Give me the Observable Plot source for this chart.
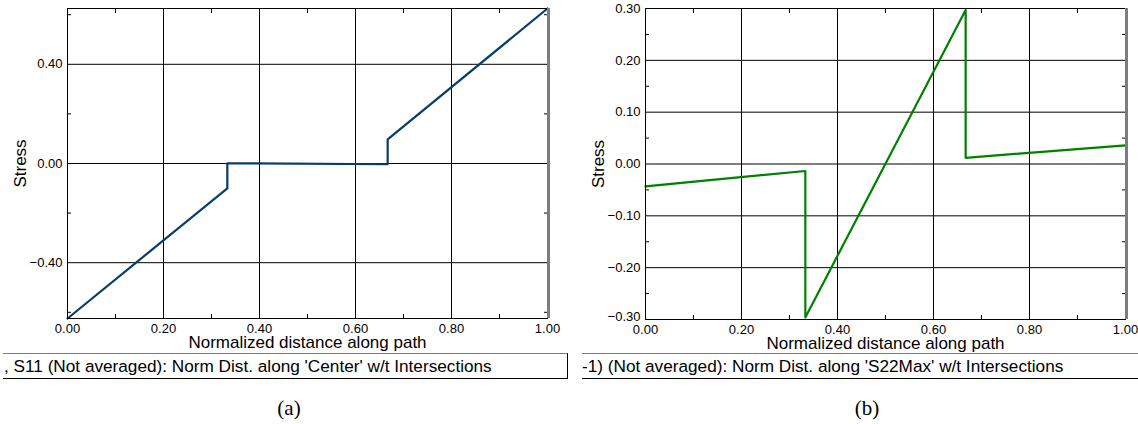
<!DOCTYPE html>
<html>
<head>
<meta charset="utf-8">
<script src="https://cdn.jsdelivr.net/npm/d3@7"></script>
<script src="https://cdn.jsdelivr.net/npm/@observablehq/plot@0.6"></script>
<style>
  html, body { margin: 0; padding: 0; background: #fff; }
  #root { position: relative; width: 1138px; height: 424px; overflow: hidden; font-family: "Liberation Sans", Arial, sans-serif; color: #000; }
  .panel { position: absolute; top: 0; }
  .cap { position: absolute; top: 353px; height: 26px; box-sizing: border-box; border-top: 1px solid #7a7a7a; border-bottom: 1px solid #000; font-size: 17.2px; line-height: 24px; white-space: nowrap; overflow: hidden; }
  .sub { position: absolute; top: 408px; font-family: "Liberation Serif", "DejaVu Serif", serif; font-size: 21px; transform: translate(-50%, -50%); }
</style>
</head>
<body>
<div id="root">
  <div id="pa" class="panel" style="left:0px"></div>
  <div id="pb" class="panel" style="left:570px"></div>
  <div id="capA" class="cap" style="left:3px; width:565px; border-right:1px solid #000; padding-left:1px;"></div>
  <div id="capB" class="cap" style="left:582px; width:600px; padding-left:0px;"></div>
  <div id="subA" class="sub" style="left:289px;"></div>
  <div id="subB" class="sub" style="left:867px;"></div>
</div>
<script>
// ---- data ----
const xLabel = "Normalized distance along path";
const yLabel = "Stress";

// panel (a): S11 along 'Center'
const distA = [0, 0.333, 0.333, 0.667, 0.667, 1.0];
const stressA = [-0.625, -0.1, 0.001, -0.003, 0.097, 0.625];
const yDomainA = [-0.625, 0.625];
const yTicksA = [-0.4, 0.0, 0.4];
const yMinorA = [-0.6, -0.2, 0.2, 0.6];
const captionA = ", S11 (Not averaged): Norm Dist. along 'Center' w/t Intersections";
const subA = "(a)";

// panel (b): along 'S22Max'
const distB = [0, 0.333, 0.333, 0.667, 0.667, 1.0];
const stressB = [-0.043, -0.0135, -0.296, 0.297, 0.012, 0.036];
const yDomainB = [-0.3, 0.3];
const yTicksB = [-0.2, -0.1, 0.0, 0.1, 0.2, 0.3];
const yTicksBLow = [-0.3];
const yGridB = [-0.2, -0.1, 0.0, 0.1, 0.2];
const yMinorB = [-0.25, -0.15, -0.05, 0.05, 0.15, 0.25];
const captionB = "-1) (Not averaged): Norm Dist. along 'S22Max' w/t Intersections";
const subB = "(b)";

// shared x
const xTicks = [0, 0.2, 0.4, 0.6, 0.8, 1.0];
const xGrid = [0.2, 0.4, 0.6, 0.8];
const xMinor = [0.1, 0.3, 0.5, 0.7, 0.9];

const fmt = d3.format(".2f");

function makePanel({dist, stress, color, yDomain, yTicks, yTicksLow, yGrid, yMinor, width, marginLeft, marginRight, marginBottom}) {
  const data = dist.map((d, i) => ({d, s: stress[i]}));
  return Plot.plot({
    width, height: 350,
    marginLeft, marginRight, marginTop: 8, marginBottom,
    style: {fontFamily: "'Liberation Sans', Arial, sans-serif", fontSize: "13px", background: "transparent", color: "#000", overflow: "visible"},
    x: {domain: [0, 1]},
    y: {domain: yDomain},
    marks: [
      Plot.gridX(xGrid, {stroke: "#000", strokeOpacity: 1, strokeWidth: 1}),
      Plot.gridY(yGrid, {stroke: "#000", strokeOpacity: 1, strokeWidth: 1}),
      Plot.axisX(xMinor, {anchor: "bottom", tickSize: -4, fill: "none", label: null}),
      Plot.axisX(xMinor, {anchor: "top", tickSize: -4, fill: "none", label: null}),
      Plot.axisY(yMinor, {anchor: "left", tickSize: -4, fill: "none", label: null}),
      Plot.axisY(yMinor, {anchor: "right", tickSize: -4, fill: "none", label: null}),
      Plot.line(data, {x: "d", y: "s", stroke: color, strokeWidth: 2.2}),
      Plot.frame({stroke: "#000", strokeWidth: 1}),
      Plot.ruleX([1], {stroke: "#7d7d7d", strokeWidth: 3, dx: 1}),
      Plot.axisX(xTicks, {anchor: "bottom", tickSize: 0, tickPadding: 5, tickFormat: fmt, label: null}),
      Plot.axisY(yTicks, {anchor: "left", tickSize: 0, tickPadding: 5, tickFormat: fmt, label: null}),
      yTicksLow ? Plot.axisY(yTicksLow, {anchor: "left", tickSize: 0, tickPadding: 5, dy: -3, tickFormat: fmt, label: null}) : null,
      Plot.axisX([], {anchor: "bottom", tickSize: 0, label: xLabel, labelAnchor: "center", labelOffset: 29, labelArrow: false, fontSize: 17}),
      Plot.axisY([], {anchor: "left", tickSize: 0, label: yLabel, labelAnchor: "center", labelOffset: 54, labelArrow: false, fontSize: 17})
    ]
  });
}

document.getElementById("pa").appendChild(makePanel({
  dist: distA, stress: stressA, color: "#073c6d", yDomain: yDomainA, yTicks: yTicksA, yTicksLow: null, yGrid: yTicksA, yMinor: yMinorA,
  width: 570, marginLeft: 67, marginRight: 23, marginBottom: 32
}));
document.getElementById("pb").appendChild(makePanel({
  dist: distB, stress: stressB, color: "#008000", yDomain: yDomainB, yTicks: yTicksB, yTicksLow: yTicksBLow, yGrid: yGridB, yMinor: yMinorB,
  width: 568, marginLeft: 75, marginRight: 13, marginBottom: 31
}));
document.getElementById("capA").textContent = captionA;
document.getElementById("capB").textContent = captionB;
document.getElementById("subA").textContent = subA;
document.getElementById("subB").textContent = subB;
</script>
</body>
</html>
